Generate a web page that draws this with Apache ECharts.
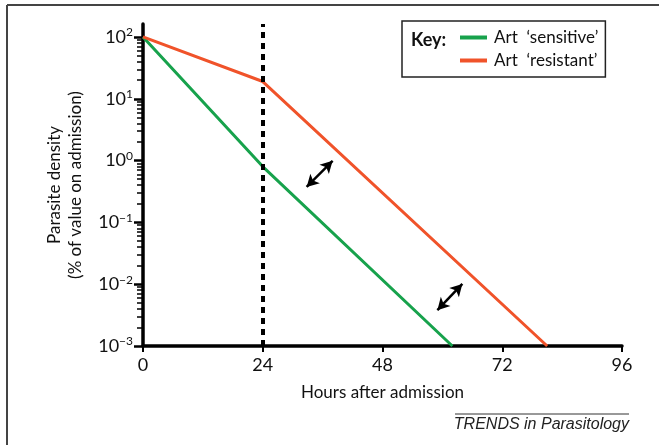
<!DOCTYPE html>
<html>
<head>
<meta charset="utf-8">
<script src="https://cdn.jsdelivr.net/npm/echarts@6/dist/echarts.min.js"></script>
<style>
html,body{margin:0;padding:0;background:#fff;}
#c{width:659px;height:445px;}
</style>
</head>
<body>
<div id="c"></div>
<script>
// ---- data ----
const xTicks = [0, 24, 48, 72, 96];
const yMajorTicks = [0.001, 0.01, 0.1, 1, 10, 100];
const yMinorTicks = [
  0.002,0.003,0.004,0.005,0.006,0.007,0.008,0.009,
  0.02,0.03,0.04,0.05,0.06,0.07,0.08,0.09,
  0.2,0.3,0.4,0.5,0.6,0.7,0.8,0.9,
  2,3,4,5,6,7,8,9,
  20,30,40,50,60,70,80,90
];
const sensitiveHours = [0, 24, 62];
const sensitiveValues = [100, 0.8, 0.001];
const resistantHours = [0, 24, 81];
const resistantValues = [100, 19, 0.001];
const dividerHour = 24;
const arrow1 = [[32.8, 0.374], [38, 0.99]];
const arrow2 = [[59, 0.0038], [64, 0.0101]];
const seriesNames = ["Art  \u2018sensitive\u2019", "Art  \u2018resistant\u2019"];

const FONT = 'Lato, "Open Sans", sans-serif';
const GREEN = '#17a24c';
const RED = '#f0532a';

function supLabel(v) {
  const e = Math.round(Math.log10(v));
  const s = e < 0 ? '\u2212' + Math.abs(e) : String(e);
  return '{b|10}{s|' + s + '}';
}

const chart = echarts.init(document.getElementById('c'), null, {renderer: 'canvas'});
const option = {
  animation: false,
  backgroundColor: '#fff',
  textStyle: {fontFamily: FONT},
  grid: {left: 143, right: 37, top: 24, bottom: 99, containLabel: false},
  legend: {
    orient: 'vertical',
    left: 402, top: 21,
    padding: [8, 7, 8, 58],
    itemGap: 6,
    itemWidth: 27, itemHeight: 4,
    icon: 'rect',
    borderColor: '#222', borderWidth: 1.5,
    textStyle: {fontFamily: FONT, fontSize: 17, color: '#111', padding: [0, 0, 0, 2]},
    data: seriesNames
  },
  xAxis: {
    type: 'value', min: 0, max: 96, interval: 24,
    name: 'Hours after admission', nameLocation: 'middle', nameGap: 38,
    nameTextStyle: {fontFamily: FONT, fontSize: 17, color: '#111'},
    axisLine: {show: true, onZero: false, lineStyle: {color: '#000', width: 3.5}},
    axisTick: {show: true, length: 6, lineStyle: {color: '#000', width: 2}, customValues: xTicks},
    axisLabel: {fontFamily: FONT, fontSize: 18, color: '#111', margin: 10, customValues: xTicks},
    splitLine: {show: false}
  },
  yAxis: [{
    type: 'log', logBase: 10, min: 0.001, max: 162,
    name: 'Parasite density\n(% of value on admission)',
    nameLocation: 'middle', nameRotate: 90, nameGap: 57,
    nameTextStyle: {fontFamily: FONT, fontSize: 17, color: '#111', lineHeight: 21},
    axisLine: {show: true, onZero: false, lineStyle: {color: '#000', width: 3.5}},
    axisTick: {show: true, length: 9, lineStyle: {color: '#000', width: 2.5}, customValues: yMajorTicks},
    axisLabel: {
      margin: 10, customValues: yMajorTicks, formatter: supLabel,
      rich: {
        b: {fontFamily: FONT, fontSize: 18, color: '#111', lineHeight: 21},
        s: {fontFamily: FONT, fontSize: 12, color: '#111', lineHeight: 12, verticalAlign: 'top'}
      }
    },
    splitLine: {show: false}
  }, {
    type: 'log', logBase: 10, min: 0.001, max: 162, position: 'left',
    axisLine: {show: false},
    axisTick: {show: true, length: 6, lineStyle: {color: '#000', width: 1.5}, customValues: yMinorTicks},
    axisLabel: {show: false},
    splitLine: {show: false}
  }],
  series: [{
    name: seriesNames[0], type: 'line', yAxisIndex: 0,
    data: sensitiveHours.map((h, i) => [h, sensitiveValues[i]]),
    symbol: 'none', lineStyle: {color: GREEN, width: 3}, itemStyle: {color: GREEN}, z: 3
  }, {
    name: seriesNames[1], type: 'line', yAxisIndex: 0,
    data: resistantHours.map((h, i) => [h, resistantValues[i]]),
    symbol: 'none', lineStyle: {color: RED, width: 3}, itemStyle: {color: RED}, z: 3,
    markLine: {
      silent: true, symbol: ['none', 'none'], label: {show: false},
      lineStyle: {color: '#000', width: 4, type: [6, 5]},
      data: [{xAxis: dividerHour}]
    }
  }, {
    name: 'arrows', type: 'line', yAxisIndex: 1, data: [],
    markLine: {
      silent: true, symbol: ['arrow', 'arrow'], symbolSize: [10, 12], label: {show: false},
      lineStyle: {color: '#000', width: 2.5, type: 'solid'},
      data: [
        [{coord: arrow1[0]}, {coord: arrow1[1]}],
        [{coord: arrow2[0]}, {coord: arrow2[1]}]
      ]
    }
  }],
  graphic: [
    {type: 'line', shape: {x1: 7, y1: 5, x2: 659, y2: 5}, style: {stroke: '#444', lineWidth: 2}},
    {type: 'line', shape: {x1: 7, y1: 5, x2: 7, y2: 445}, style: {stroke: '#444', lineWidth: 2}},
    {type: 'text', left: 411, top: 31, style: {text: 'Key:', fontFamily: FONT, fontSize: 18, fontWeight: 'bold', fill: '#111'}},
    {type: 'line', shape: {x1: 455, y1: 414, x2: 629, y2: 414}, style: {stroke: '#333', lineWidth: 1}},
    {type: 'text', right: 30, top: 417, style: {text: 'TRENDS in Parasitology', fontFamily: '"Liberation Sans", Arial, sans-serif', fontSize: 16, fontStyle: 'italic', fill: '#222'}}
  ]
};
chart.setOption(option);
</script>
</body>
</html>
